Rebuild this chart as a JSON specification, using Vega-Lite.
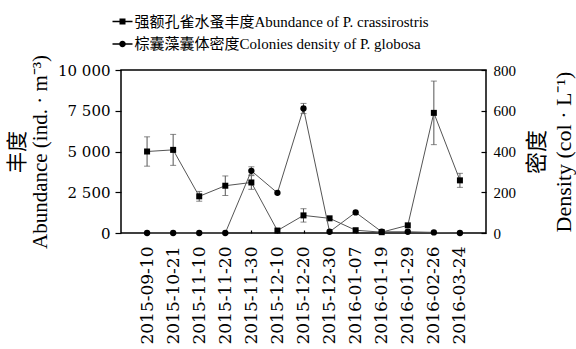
{
  "$schema": "https://vega.github.io/schema/vega-lite/v6.json",
  "width": 365,
  "height": 163,
  "autosize": {"type": "none"},
  "padding": {"left": 121, "top": 70, "right": 90, "bottom": 116},
  "background": "white",
  "config": {
    "view": {"stroke": "black", "strokeWidth": 1.5},
    "axis": {"grid": false, "domain": false, "tickColor": "black", "tickWidth": 1.2, "labelColor": "black", "titleColor": "black", "titleFontWeight": "normal"}
  },
  "data": {
    "values": [
      {"date": "2015-09-10", "abundance": 5000, "abundance_sd": 900, "density": 0, "density_sd": 0},
      {"date": "2015-10-21", "abundance": 5100, "abundance_sd": 950, "density": 0, "density_sd": 0},
      {"date": "2015-11-10", "abundance": 2250, "abundance_sd": 300, "density": 0, "density_sd": 0},
      {"date": "2015-11-20", "abundance": 2900, "abundance_sd": 600, "density": 0, "density_sd": 0},
      {"date": "2015-11-30", "abundance": 3100, "abundance_sd": 420, "density": 305, "density_sd": 20},
      {"date": "2015-12-10", "abundance": 150, "abundance_sd": 0, "density": 197, "density_sd": 0},
      {"date": "2015-12-20", "abundance": 1080, "abundance_sd": 410, "density": 611, "density_sd": 25},
      {"date": "2015-12-30", "abundance": 900, "abundance_sd": 0, "density": 6, "density_sd": 0},
      {"date": "2016-01-07", "abundance": 170, "abundance_sd": 0, "density": 101, "density_sd": 0},
      {"date": "2016-01-19", "abundance": 50, "abundance_sd": 0, "density": 6, "density_sd": 0},
      {"date": "2016-01-29", "abundance": 470, "abundance_sd": 0, "density": 6, "density_sd": 0},
      {"date": "2016-02-26", "abundance": 7370, "abundance_sd": 1950, "density": 3, "density_sd": 0},
      {"date": "2016-03-24", "abundance": 3230, "abundance_sd": 430, "density": 0, "density_sd": 0}
    ]
  },
  "encoding": {
    "x": {
      "field": "date", "type": "ordinal",
      "scale": {"type": "point", "padding": 1.05, "domain": ["2015-09-10", "2015-10-21", "2015-11-10", "2015-11-20", "2015-11-30", "2015-12-10", "2015-12-20", "2015-12-30", "2016-01-07", "2016-01-19", "2016-01-29", "2016-02-26", "2016-03-24"]},
      "axis": {"title": null, "labelAngle": -90, "labelFont": "DejaVu Serif", "labelFontSize": 17, "tickSize": -3, "labelPadding": 16}
    }
  },
  "layer": [
    {
      "encoding": {
        "y": {
          "field": "abundance", "type": "quantitative",
          "scale": {"domain": [0, 10000], "nice": false},
          "axis": {
            "values": [0, 2500, 5000, 7500, 10000],
            "labelExpr": "replace(format(datum.value, ','), ',', ' ')",
            "labelFont": "DejaVu Serif", "labelFontSize": 15, "tickSize": 6, "labelPadding": 5,
            "title": ["丰度", "Abundance (ind. · m⁻³)"],
            "titleFont": "Liberation Serif, Noto Sans CJK SC", "titleFontSize": 21, "titleLineHeight": 23,
            "titlePadding": 7, "titleAngle": 270, "titleBaseline": "bottom"
          }
        }
      },
      "layer": [
        {
          "transform": [{"filter": "datum.abundance_sd > 0"}],
          "mark": {"type": "errorbar", "ticks": {"size": 6, "color": "#555555", "thickness": 1}, "rule": {"color": "#555555", "strokeWidth": 1}},
          "encoding": {"yError": {"field": "abundance_sd"}}
        },
        {"mark": {"type": "line", "color": "#555555", "strokeWidth": 1}, "encoding": {}},
        {"mark": {"type": "point", "shape": "square", "filled": true, "color": "black", "size": 36, "opacity": 1}, "encoding": {}}
      ]
    },
    {
      "encoding": {
        "y": {
          "field": "density", "type": "quantitative",
          "scale": {"domain": [0, 800], "nice": false},
          "axis": {
            "orient": "right",
            "values": [0, 200, 400, 600, 800],
            "labelFont": "Liberation Serif", "labelFontSize": 15, "tickSize": -5, "labelPadding": 12,
            "title": ["密度", "Density (col · L⁻¹)"],
            "titleFont": "Liberation Serif, Noto Sans CJK SC", "titleFontSize": 22, "titleLineHeight": 27,
            "titleX": 40, "titleY": 81.5, "titleAngle": 270, "titleBaseline": "top", "titleAlign": "center"
          }
        }
      },
      "layer": [
        {
          "transform": [{"filter": "datum.density_sd > 0"}],
          "mark": {"type": "errorbar", "ticks": {"size": 6, "color": "#555555", "thickness": 1}, "rule": {"color": "#555555", "strokeWidth": 1}},
          "encoding": {"yError": {"field": "density_sd"}}
        },
        {"mark": {"type": "line", "color": "#555555", "strokeWidth": 1}, "encoding": {}},
        {"mark": {"type": "point", "shape": "circle", "filled": true, "color": "black", "size": 40, "opacity": 1}, "encoding": {}}
      ]
    },
    {
      "transform": [{"filter": "false"}],
      "mark": {"type": "point", "filled": true, "color": "black", "opacity": 1},
      "encoding": {
        "shape": {
          "field": "series", "type": "nominal",
          "scale": {
            "domain": ["强额孔雀水蚤丰度Abundance of P. crassirostris", "棕囊藻囊体密度Colonies density of P. globosa"],
            "range": ["M-1,-0.08H1V0.08H-1Z M-0.3,-0.3H0.3V0.3H-0.3Z", "M-1,-0.08H1V0.08H-1Z M-0.33,0A0.33,0.33 0 1,1 0.33,0A0.33,0.33 0 1,1 -0.33,0Z"]
          },
          "legend": {
            "orient": "none", "legendX": -8.5, "legendY": -58.5, "title": null, "direction": "vertical",
            "symbolSize": 400, "symbolFillColor": "black", "symbolStrokeWidth": 0,
            "labelFont": "Liberation Serif, Noto Sans CJK SC", "labelFontSize": 15, "labelColor": "black",
            "labelLimit": 600, "labelOffset": 2, "rowPadding": 4.5, "padding": 0
          }
        }
      }
    }
  ],
  "resolve": {"scale": {"y": "independent"}}
}
